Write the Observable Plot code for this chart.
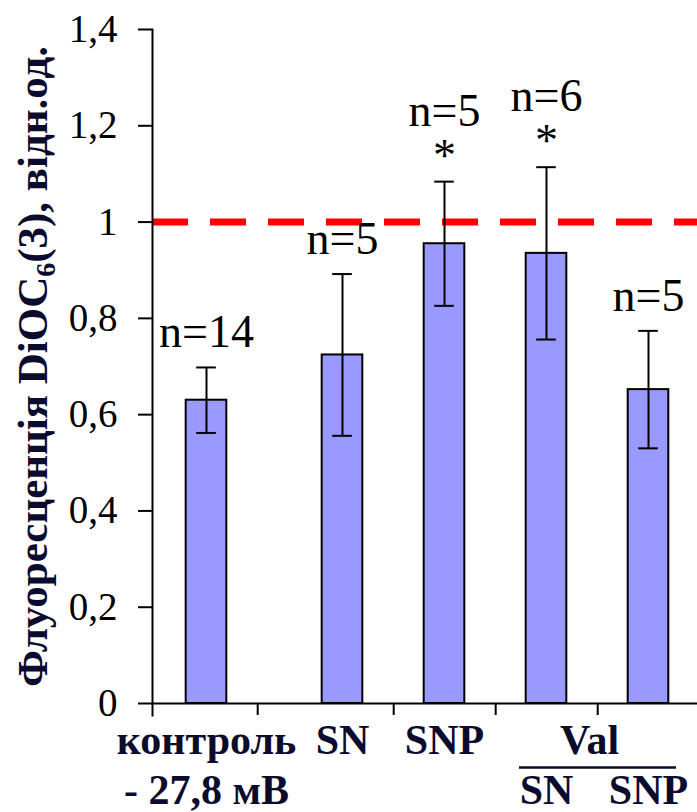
<!DOCTYPE html>
<html><head><meta charset="utf-8">
<script src="https://cdn.jsdelivr.net/npm/d3@7"></script>
<script src="https://cdn.jsdelivr.net/npm/@observablehq/plot@0.6"></script>
<style>body{margin:0;background:#fff} svg{display:block}</style>
</head><body><div id="chart"></div>
<script>
// Categories (bars) and the spaced slot layout of the category axis
const categories = ["контроль", "SN", "SNP", "Val SN", "Val SNP"];
const xSlots = ["контроль", "g1", "g2", "g3", "SN", "g4", "g5", "SNP", "g6", "g7", "Val SN", "g8", "g9", "Val SNP"];
const tickSlots = ["g1", "g4", "g6", "g8"];
const means = [0.63, 0.724, 0.955, 0.935, 0.652];
const sems = [0.068, 0.168, 0.129, 0.179, 0.122];
const nLabels = ["n=14", "n=5", "n=5", "n=6", "n=5"];
const stars = ["", "", "*", "*", ""];
const row1Labels = ["контроль", "SN", "SNP", "", ""];
const row2Labels = ["- 27,8 мВ", "", "", "SN", "SNP"];
const groupLabel = ["Val"];
const groupMembers = ["Val SN", "Val SNP"];
const yTicks = [0, 0.2, 0.4, 0.6, 0.8, 1, 1.2, 1.4];
const yTickLabels = ["0", "0,2", "0,4", "0,6", "0,8", "1", "1,2", "1,4"];
const refLine = [1];
const yTitleParts = ["Флуоресценція DiOC", "6", "(3), відн.од."];
const yTitle = yTitleParts.join("");

const W = 697, H = 812, mL = 152, mR = 0, mT = 29, mB = 109;
const pOuter = 0.925, align = 0.53;
const step = (W - mL - mR) / (xSlots.length + 2 * pOuter);
const frameH = H - mT - mB;
const barInset = -(41 - step) / 2;
const capInset = (step - 20) / 2;

const data = categories.map((c, i) => ({
  cat: c, mean: means[i], lo: means[i] - sems[i], hi: means[i] + sems[i],
  n: nLabels[i], star: stars[i], r1: row1Labels[i], r2: row2Labels[i]
}));

const serif = "'Liberation Serif', 'Times New Roman', 'DejaVu Serif', serif";
const labelColor = "#0b0b2e";
const txt = {fontFamily: serif};

const chart = Plot.plot({
  width: W, height: H,
  marginLeft: mL, marginRight: mR, marginTop: mT, marginBottom: mB,
  style: {fontFamily: serif, background: "#fff", color: "#000", overflow: "visible"},
  x: {type: "band", domain: xSlots, paddingInner: 0, paddingOuter: pOuter, align, axis: null},
  y: {domain: [0, 1.4], axis: null},
  marks: [
    Plot.ruleY(refLine, {stroke: "#ff0000", strokeWidth: 7, strokeDasharray: "36,22"}),
    Plot.barY(data, {x: "cat", y: "mean", fill: "#9999ff", stroke: "#000", strokeWidth: 2, insetLeft: barInset, insetRight: barInset}),
    Plot.ruleX(data, {x: "cat", y1: "lo", y2: "hi", stroke: "#000", strokeWidth: 2}),
    Plot.tickY(data, {x: "cat", y: "hi", stroke: "#000", strokeWidth: 2, insetLeft: capInset, insetRight: capInset}),
    Plot.tickY(data, {x: "cat", y: "lo", stroke: "#000", strokeWidth: 2, insetLeft: capInset, insetRight: capInset}),
    Plot.text(data.filter(d => !d.star), {...txt, x: "cat", y: "hi", text: "n", lineAnchor: "bottom", dy: -20, fontSize: 46, fill: "#000"}),
    Plot.text(data.filter(d => d.star), {...txt, x: "cat", y: "hi", text: "n", lineAnchor: "bottom", dy: -56, fontSize: 46, fill: "#000"}),
    Plot.text(data.filter(d => d.star), {...txt, x: "cat", y: "hi", text: "star", lineAnchor: "bottom", dy: -11, fontSize: 46, fill: "#000"}),
    // axes
    Plot.axisY(yTicks, {...txt, tickSize: 14, tickPadding: 21, tickFormat: d => yTickLabels[yTicks.indexOf(d)], fontSize: 39, strokeWidth: 2}),
    Plot.frame({anchor: "left", strokeWidth: 2, insetBottom: -12}),
    Plot.ruleY([0], {stroke: "#000", strokeWidth: 2}),
    Plot.ruleX(tickSlots, {x: d => d, dx: step / 2, insetTop: frameH, insetBottom: -12, stroke: "#000", strokeWidth: 2}),
    Plot.text(data, {...txt, x: "cat", text: "r1", frameAnchor: "bottom", lineAnchor: "bottom", dy: 50, fontSize: 42, fontWeight: "bold", fill: labelColor}),
    Plot.text(data, {...txt, x: "cat", text: "r2", frameAnchor: "bottom", lineAnchor: "bottom", dy: 100, fontSize: 42, fontWeight: "bold", fill: labelColor}),
    Plot.text(groupLabel, {...txt, x: () => groupMembers[0], text: d => d, dx: step * 1.25, frameAnchor: "bottom", lineAnchor: "bottom", dy: 50, fontSize: 42, fontWeight: "bold", fill: labelColor}),
    Plot.ruleY([0], {x1: () => groupMembers[0], x2: () => groupMembers[1], dy: 64, insetLeft: -10, insetRight: -11, stroke: labelColor, strokeWidth: 2.5}),
    Plot.text([yTitle], {...txt, frameAnchor: "left", rotate: -90, dx: -106, textAnchor: "middle", lineAnchor: "bottom", fontSize: 43, fontWeight: "bold", fill: labelColor})
  ]
});

d3.select(chart).selectAll("text").filter(function () { return this.textContent === yTitle; }).each(function () {
  const t = d3.select(this);
  t.text("");
  t.append("tspan").text(yTitleParts[0]);
  t.append("tspan").attr("font-size", "0.65em").attr("dy", 8).text(yTitleParts[1]);
  t.append("tspan").attr("dy", -8).text(yTitleParts[2]);
});

document.getElementById("chart").appendChild(chart);
</script>
</body></html>
